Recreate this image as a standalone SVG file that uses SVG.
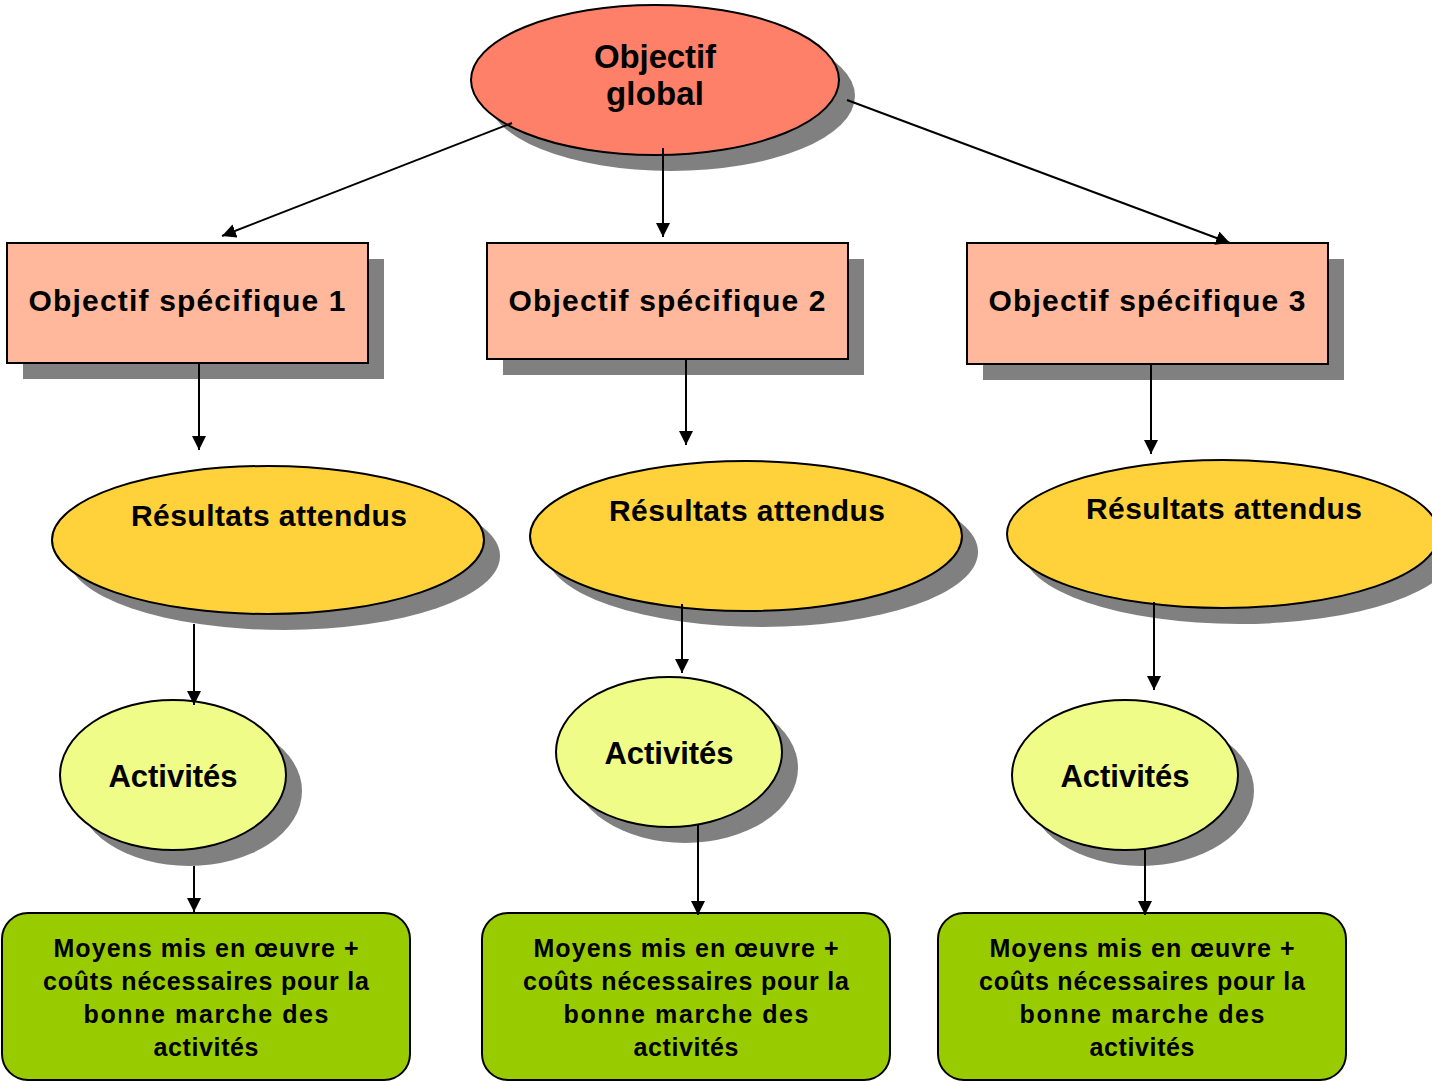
<svg xmlns="http://www.w3.org/2000/svg" width="1432" height="1082" viewBox="0 0 1432 1082">
<style>
.sh{fill:#808080;stroke:none}
.st{stroke:#000;stroke-width:2}
.og{fill:#FF8068}
.os{fill:#FFB89C}
.ra{fill:#FFD23C}
.ac{fill:#F0FC88}
.mo{fill:#99CC00}
text{font-family:"Liberation Sans",Arial,sans-serif;font-weight:bold;fill:#000;text-anchor:middle}
.t1{font-size:33px}
.t2{font-size:30px}
.t3{font-size:31px}
.t4{font-size:25px}
.cn{stroke:#000;stroke-width:2;fill:none;marker-end:url(#ah)}
</style>
<defs>
<marker id="ah" viewBox="0 0 10 10" refX="10" refY="5" markerWidth="7" markerHeight="7" markerUnits="strokeWidth" orient="auto">
<path d="M0,0 L10,5 L0,10 Z" fill="#000"/>
</marker>
</defs>
<rect width="1432" height="1082" fill="#fff"/>

<g id="objectif-global">
<ellipse class="sh" cx="671" cy="96" rx="184" ry="75"/>
<ellipse class="og st" cx="655" cy="80" rx="184" ry="75"/>
<text class="t1" x="655" y="68" textLength="122">Objectif</text>
<text class="t1" x="655" y="105" textLength="98">global</text>
</g>

<g id="os1">
<rect class="sh" x="23" y="259" width="361" height="120"/>
<rect class="os st" x="7" y="243" width="361" height="120"/>
<text class="t2" x="187" y="311" textLength="317">Objectif spécifique 1</text>
</g>
<g id="os2">
<rect class="sh" x="503" y="259" width="361" height="116"/>
<rect class="os st" x="487" y="243" width="361" height="116"/>
<text class="t2" x="667" y="311" textLength="317">Objectif spécifique 2</text>
</g>
<g id="os3">
<rect class="sh" x="983" y="259" width="361" height="121"/>
<rect class="os st" x="967" y="243" width="361" height="121"/>
<text class="t2" x="1147" y="311" textLength="317">Objectif spécifique 3</text>
</g>

<g id="ra1">
<ellipse class="sh" cx="284" cy="556" rx="216" ry="74"/>
<ellipse class="ra st" cx="268" cy="540" rx="216" ry="74"/>
<text class="t2" x="269" y="526" textLength="276">Résultats attendus</text>
</g>
<g id="ra2">
<ellipse class="sh" cx="762" cy="552" rx="216" ry="75"/>
<ellipse class="ra st" cx="746" cy="536" rx="216" ry="75"/>
<text class="t2" x="747" y="521" textLength="276">Résultats attendus</text>
</g>
<g id="ra3">
<ellipse class="sh" cx="1239" cy="550" rx="216" ry="74"/>
<ellipse class="ra st" cx="1223" cy="534" rx="216" ry="74"/>
<text class="t2" x="1224" y="519" textLength="276">Résultats attendus</text>
</g>

<g id="ac1">
<ellipse class="sh" cx="189" cy="791" rx="113" ry="75"/>
<ellipse class="ac st" cx="173" cy="775" rx="113" ry="75"/>
<text class="t3" x="173" y="787" textLength="129">Activités</text>
</g>
<g id="ac2">
<ellipse class="sh" cx="685" cy="768" rx="113" ry="75"/>
<ellipse class="ac st" cx="669" cy="752" rx="113" ry="75"/>
<text class="t3" x="669" y="764" textLength="129">Activités</text>
</g>
<g id="ac3">
<ellipse class="sh" cx="1141" cy="791" rx="113" ry="75"/>
<ellipse class="ac st" cx="1125" cy="775" rx="113" ry="75"/>
<text class="t3" x="1125" y="787" textLength="129">Activités</text>
</g>

<g id="mo1">
<rect class="mo st" x="2" y="913" width="408" height="167" rx="26"/>
<text class="t4" x="206" y="957" textLength="305">Moyens mis en œuvre +</text>
<text class="t4" x="206" y="990" textLength="326">coûts nécessaires pour la</text>
<text class="t4" x="206" y="1023" textLength="245">bonne marche des</text>
<text class="t4" x="206" y="1056" textLength="105">activités</text>
</g>
<g id="mo2">
<rect class="mo st" x="482" y="913" width="408" height="167" rx="26"/>
<text class="t4" x="686" y="957" textLength="305">Moyens mis en œuvre +</text>
<text class="t4" x="686" y="990" textLength="326">coûts nécessaires pour la</text>
<text class="t4" x="686" y="1023" textLength="245">bonne marche des</text>
<text class="t4" x="686" y="1056" textLength="105">activités</text>
</g>
<g id="mo3">
<rect class="mo st" x="938" y="913" width="408" height="167" rx="26"/>
<text class="t4" x="1142" y="957" textLength="305">Moyens mis en œuvre +</text>
<text class="t4" x="1142" y="990" textLength="326">coûts nécessaires pour la</text>
<text class="t4" x="1142" y="1023" textLength="245">bonne marche des</text>
<text class="t4" x="1142" y="1056" textLength="105">activités</text>
</g>

<g id="connectors">
<line class="cn" x1="512" y1="123" x2="222" y2="236"/>
<line class="cn" x1="663" y1="148" x2="663" y2="237"/>
<line class="cn" x1="847" y1="100" x2="1230" y2="243"/>
<line class="cn" x1="199" y1="364" x2="199" y2="450"/>
<line class="cn" x1="686" y1="360" x2="686" y2="445"/>
<line class="cn" x1="1151" y1="365" x2="1151" y2="454"/>
<line class="cn" x1="194" y1="624" x2="194" y2="705"/>
<line class="cn" x1="682" y1="604" x2="682" y2="673"/>
<line class="cn" x1="1154" y1="602" x2="1154" y2="690"/>
<line class="cn" x1="194" y1="866" x2="194" y2="912"/>
<line class="cn" x1="698" y1="825" x2="698" y2="915"/>
<line class="cn" x1="1145" y1="848" x2="1145" y2="915"/>
</g>
</svg>
